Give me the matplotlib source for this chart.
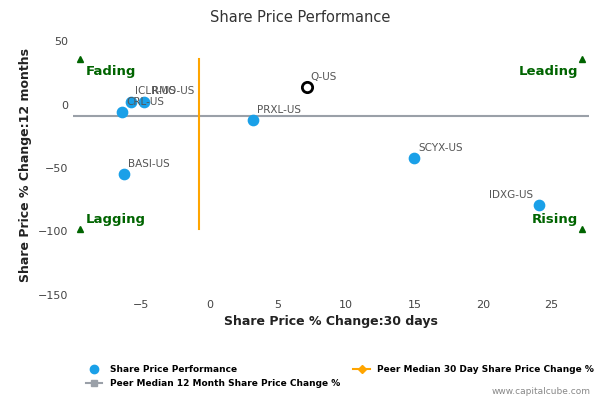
import matplotlib
matplotlib.use("Agg")
import matplotlib.pyplot as plt
from matplotlib.lines import Line2D

names = ["ICLR-US", "RMO-US", "CRL-US", "BASI-US", "PRXL-US", "SCYX-US", "IDXG-US"]
x30 = [-5.8, -4.8, -6.4, -6.3, 3.2, 15.0, 24.1]
y12 = [2.4, 2.4, -5.6, -55, -12, -42, -79]
q_name = "Q-US"; q_x = 7.1; q_y = 14
med30 = -0.8
med12 = -9
xticks = [-5, 0, 5, 10, 15, 20, 25]
yticks = [50, 0, -50, -100, -150]

fig = plt.figure(figsize=(6, 4), dpi=100)
ax = fig.add_axes([0.122, 0.263, 0.86, 0.65])
ax.set_xlim(-10, 27.8)
ax.set_ylim(-150, 55)
for s in ax.spines.values():
    s.set_visible(False)
ax.tick_params(length=0, labelsize=8, colors="#444444")
ax.set_xticks(xticks); ax.set_yticks(yticks)
ax.axhline(med12, color="#9aa0a8", lw=1.5, zorder=1)
ax.plot([med30, med30], [36, -98], color="#ffa500", lw=1.5, zorder=1)
ax.scatter(x30, y12, s=55, color="#1aa0e8", zorder=3)
ax.scatter([q_x], [q_y], s=55, facecolor="white", edgecolor="black", lw=2, zorder=3)
for n, x, y in zip(names, x30, y12):
    ha = "right" if n == "IDXG-US" else "left"
    dx = -0.4 if ha == "right" else 0.3
    if n == "RMO-US":
        dx = 0.6
    ax.text(x + dx, y + 4, n, fontsize=7.5, color="#555555", ha=ha, va="bottom")
ax.text(q_x + 0.3, q_y + 4, q_name, fontsize=7.5, color="#555555", va="bottom")
g = "#006400"
for (x, y) in [(-9.5, 36), (27.3, 36), (-9.5, -98), (27.3, -98)]:
    ax.plot(x, y, marker="^", color=g, ms=5, zorder=4)
ax.text(-9.1, 26, "Fading", color=g, fontsize=9.5, fontweight="bold", va="center")
ax.text(27.0, 26, "Leading", color=g, fontsize=9.5, fontweight="bold", va="center", ha="right")
ax.text(-9.1, -91, "Lagging", color=g, fontsize=9.5, fontweight="bold", va="center")
ax.text(27.0, -91, "Rising", color=g, fontsize=9.5, fontweight="bold", va="center", ha="right")
ax.set_xlabel("Share Price % Change:30 days", fontsize=9, fontweight="bold", color="#222222")
ax.set_ylabel("Share Price % Change:12 months", fontsize=9, fontweight="bold", color="#222222")
fig.suptitle("Share Price Performance", y=0.975, fontsize=10.5, color="#333333")
handles = [Line2D([], [], marker="o", ls="", color="#1aa0e8", ms=6),
           Line2D([], [], marker="s", color="#9aa0a8", ms=5),
           Line2D([], [], marker="D", color="#ffa500", ms=4)]
labels = ["Share Price Performance", "Peer Median 12 Month Share Price Change %",
          "Peer Median 30 Day Share Price Change %"]
fig.legend(handles, labels, loc="lower left", bbox_to_anchor=(0.13, 0.01), ncol=2,
           frameon=False, prop={"size": 6.5, "weight": "bold"}, columnspacing=1.5, handlelength=1.8)
fig.text(0.985, 0.015, "www.capitalcube.com", ha="right", fontsize=6.5, color="#888888")
fig.savefig("out.png")
